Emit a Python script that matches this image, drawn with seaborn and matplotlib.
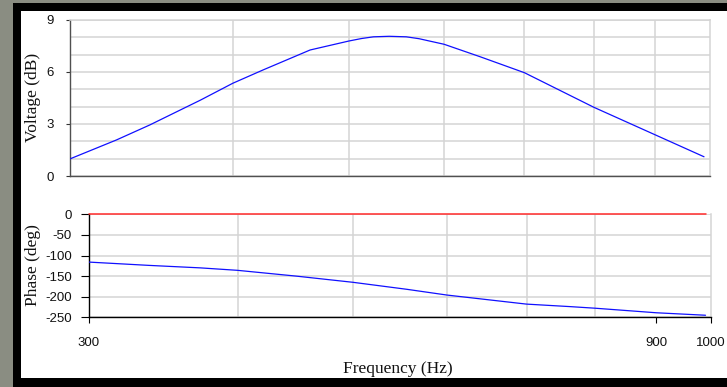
import matplotlib
matplotlib.use("Agg")
import matplotlib.pyplot as plt
import seaborn as sns
import pandas as pd
from matplotlib.patches import Rectangle
from matplotlib.ticker import FixedLocator, NullFormatter, FixedFormatter

# ---- data ----
volt_freq = [293, 320, 341, 376, 400, 424, 464, 500, 512, 524, 540, 558, 572, 584, 600, 643, 700, 800, 900, 988]
volt_db = [1.0, 2.08, 2.94, 4.38, 5.35, 6.12, 7.27, 7.79, 7.93, 8.03, 8.06, 8.03, 7.92, 7.78, 7.6, 6.88, 5.96, 3.96, 2.37, 1.11]

phase_freq = [300, 337, 372, 400, 448, 500, 555, 600, 700, 761, 800, 900, 990]
phase_deg = [-116, -124, -130, -136, -150, -165, -182, -196, -218, -224, -228, -239, -245]

ref_freq = [300, 990]
ref_deg = [0, 0]

volt_yticks = [0, 3, 6, 9]
phase_yticks = [0, -50, -100, -150, -200, -250]
freq_ticks = [300, 900, 1000]
freq_grid = [400, 500, 600, 700, 800, 900]

W, H = 727, 387
sns.set_theme(style="white")
plt.rcParams["font.family"] = ["Liberation Sans", "DejaVu Sans"]
plt.rcParams["axes.unicode_minus"] = False

fig = plt.figure(figsize=(W / 100, H / 100), dpi=100)
fig.patch.set_facecolor("#8a8d82")
fig.add_artist(Rectangle((13 / W, 0), 1, 1 - 3 / H, transform=fig.transFigure,
                         facecolor="black", edgecolor="none", zorder=0))
fig.add_artist(Rectangle((21 / W, 1 - 378 / H), 1, (378 - 11) / H, transform=fig.transFigure,
                         facecolor="white", edgecolor="none", zorder=0))


def px_axes(l, t, r, b):
    return fig.add_axes([l / W, 1 - b / H, (r - l) / W, (b - t) / H])


grid_c = "#d4d4d4"
tick_fs = 9.5

# ---- top: voltage ----
ax1 = px_axes(70, 20, 710.3, 176)
ax1.set_facecolor("none")
df_v = pd.DataFrame({"f": volt_freq, "v": volt_db})
sns.lineplot(data=df_v, x="f", y="v", ax=ax1, color="#1010ff", linewidth=0.9, zorder=3)
ax1.set_xscale("log")
ax1.set_xlim(292.7, 1000)
ax1.set_ylim(0, 9)
ax1.xaxis.set_major_locator(FixedLocator(freq_grid))
ax1.xaxis.set_major_formatter(NullFormatter())
ax1.xaxis.set_minor_locator(FixedLocator([]))
ax1.xaxis.set_minor_formatter(NullFormatter())
ax1.tick_params(axis="x", length=0)
ax1.yaxis.set_major_locator(FixedLocator(volt_yticks))
ax1.yaxis.set_minor_locator(FixedLocator(list(range(0, 10))))
ax1.tick_params(axis="y", which="major", length=3, width=0.8, color="#333333",
                pad=8.5, labelsize=tick_fs, labelcolor="#111111", left=True)
ax1.tick_params(axis="y", which="minor", length=0)
ax1.grid(True, which="both", axis="y", color=grid_c, linewidth=1.1)
ax1.grid(True, which="major", axis="x", color=grid_c, linewidth=1.1)
ax1.set_axisbelow(True)
for s in ["top", "right"]:
    ax1.spines[s].set_color(grid_c)
    ax1.spines[s].set_linewidth(1.1)
for s in ["left", "bottom"]:
    ax1.spines[s].set_color("#505050")
    ax1.spines[s].set_linewidth(1.0)
ax1.set_xlabel("")
ax1.set_ylabel("")

# ---- bottom: phase ----
ax2 = px_axes(89, 214.3, 710.7, 317.3)
ax2.set_facecolor("none")
df_p = pd.DataFrame({"f": phase_freq, "p": phase_deg})
df_r = pd.DataFrame({"f": ref_freq, "p": ref_deg})
sns.lineplot(data=df_r, x="f", y="p", ax=ax2, color="#ff2a2a", linewidth=1.1, zorder=4, clip_on=False)
sns.lineplot(data=df_p, x="f", y="p", ax=ax2, color="#1010ff", linewidth=0.9, zorder=3)
ax2.set_xscale("log")
ax2.set_xlim(300, 1000)
ax2.set_ylim(-250, 0)
ax2.xaxis.set_major_locator(FixedLocator(freq_ticks))
ax2.xaxis.set_major_formatter(FixedFormatter([str(v) for v in freq_ticks]))
ax2.xaxis.set_minor_locator(FixedLocator(freq_grid))
ax2.xaxis.set_minor_formatter(NullFormatter())
ax2.tick_params(axis="x", which="major", length=4.5, width=0.8, color="black", bottom=True,
                pad=10, labelsize=tick_fs, labelcolor="#111111")
ax2.tick_params(axis="x", which="minor", length=0)
ax2.yaxis.set_major_locator(FixedLocator(phase_yticks))
ax2.tick_params(axis="y", which="major", length=6, width=0.8, color="black", left=True,
                pad=6.5, labelsize=tick_fs, labelcolor="#111111")
ax2.grid(True, which="major", axis="y", color=grid_c, linewidth=1.1)
ax2.grid(True, which="minor", axis="x", color=grid_c, linewidth=1.1)
ax2.set_axisbelow(True)
ax2.spines["top"].set_visible(False)
ax2.spines["right"].set_color(grid_c)
ax2.spines["right"].set_linewidth(1.1)
for s in ["left", "bottom"]:
    ax2.spines[s].set_color("black")
    ax2.spines[s].set_linewidth(1.0)
ax2.set_xlabel("")
ax2.set_ylabel("")

serif = ["Liberation Serif", "DejaVu Serif"]
fig.text(33 / W, 1 - 97 / H, "Voltage (dB)", rotation=90, ha="center", va="center",
         fontsize=12.5, family=serif, color="#111111")
fig.text(33 / W, 1 - 265.5 / H, "Phase (deg)", rotation=90, ha="center", va="center",
         fontsize=12.5, family=serif, color="#111111")
fig.text(398 / W, 1 - 369 / H, "Frequency (Hz)", ha="center", va="center",
         fontsize=12.5, family=serif, color="#111111")

fig.savefig("out.png", dpi=100, facecolor=fig.get_facecolor())
